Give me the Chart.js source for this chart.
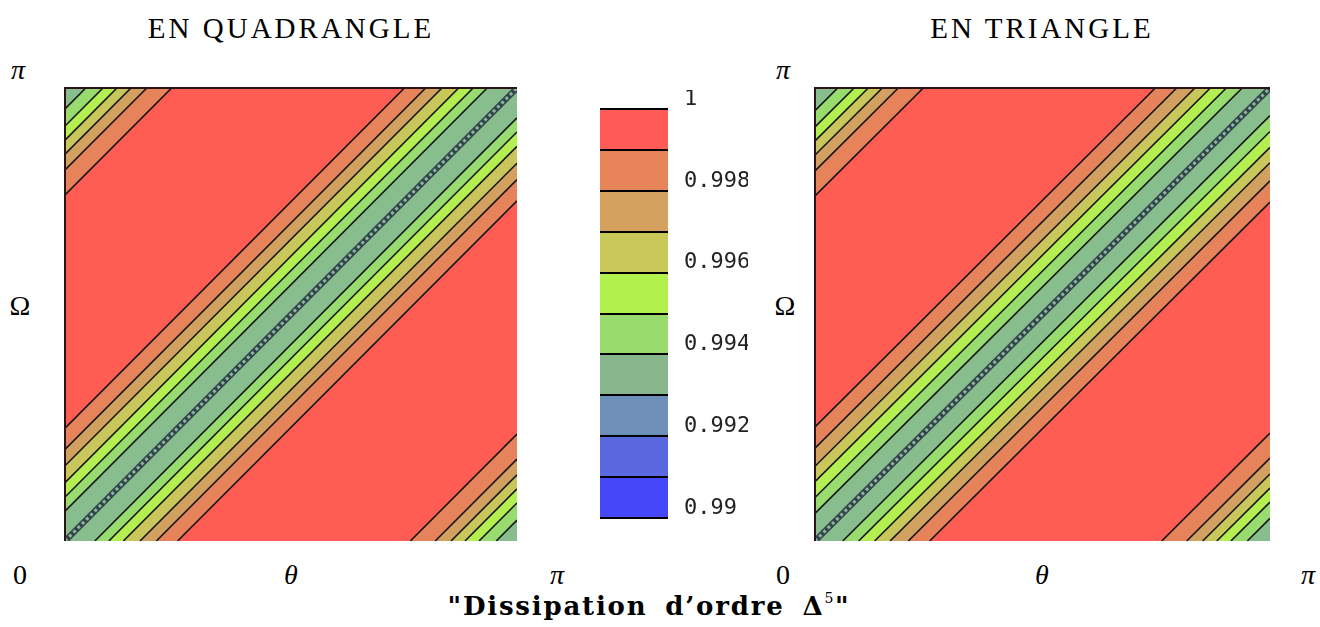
<!DOCTYPE html>
<html lang="fr">
<head>
<meta charset="UTF-8">
<title>Dissipation d'ordre Δ5</title>
<script src="https://cdn.jsdelivr.net/npm/chart.js@4.4.1/dist/chart.umd.min.js"></script>
<style>
  body{ margin:0; width:1320px; height:627px; background:#fff; position:relative; overflow:hidden;
        font-family:"Liberation Serif", "DejaVu Serif", serif; color:#000; }
  .lbl{ position:absolute; transform:translate(-50%,-50%); white-space:nowrap; font-size:28px; line-height:1; }
  .ttl{ position:absolute; transform:translate(-50%,-50%); white-space:nowrap; font-size:29px; letter-spacing:3px; line-height:1; }
  .it{ font-style:italic; }
  .foot{ position:absolute; transform:translate(-50%,-50%); white-space:nowrap; font-family:"DejaVu Serif", serif;
         font-size:26px; font-weight:bold; letter-spacing:1.8px; word-spacing:7px; line-height:1; }
  .foot sup{ font-size:14px; font-weight:normal; vertical-align:12px; line-height:0; }
  canvas{ position:absolute; }
</style>
</head>
<body>
<div class="ttl" style="left:291px;top:28px">EN QUADRANGLE</div>
<div class="ttl" style="left:1042px;top:28px">EN TRIANGLE</div>

<div class="lbl it" style="left:18px;top:70px">π</div>
<div class="lbl" style="left:20px;top:306px">Ω</div>
<div class="lbl" style="left:20px;top:575px">0</div>
<div class="lbl it" style="left:291px;top:575px">θ</div>
<div class="lbl it" style="left:557px;top:575px">π</div>

<div class="lbl it" style="left:783px;top:70px">π</div>
<div class="lbl" style="left:785px;top:306px">Ω</div>
<div class="lbl" style="left:783px;top:575px">0</div>
<div class="lbl it" style="left:1042px;top:575px">θ</div>
<div class="lbl it" style="left:1308px;top:575px">π</div>

<div class="foot" style="left:649px;top:606px">"Dissipation d’ordre Δ<sup>5</sup>"</div>

<canvas id="quad" style="left:63px;top:86px" width="456" height="457"></canvas>
<canvas id="bar" style="left:598px;top:90px" width="150" height="440"></canvas>
<canvas id="tri" style="left:813px;top:86px" width="459" height="457"></canvas>

<script>
// contour levels, outer (red side) to inner
const levels = [0.999, 0.998, 0.997, 0.996, 0.995, 0.994];
// distance of each contour from the diagonal theta = Omega, in units of pi
const quadDiag = [0.249, 0.202, 0.166, 0.129, 0.097, 0.066];
const triDiag  = [0.252, 0.205, 0.165, 0.131, 0.096, 0.061];
// distance of each contour from the corners (0,pi) and (pi,0), in units of pi
const quadCorner = [0.236, 0.181, 0.146, 0.115, 0.084, 0.046];
const triCorner  = [0.238, 0.183, 0.148, 0.117, 0.086, 0.050];
// colour bar
const barBounds = [0.990, 0.991, 0.992, 0.993, 0.994, 0.995, 0.996, 0.997, 0.998, 0.999, 1.000];

const bandColors = ['#e6835b', '#d3a15f', '#c9c75b', '#b4ef52', '#98db6e', '#88bd8d'];
const topColor = '#ff5c53';
const barColors = ['#4747fa', '#5a68e0', '#6e90b8', '#88b78e', '#98da6c', '#b2f04e',
                   '#c9c95a', '#d4a25e', '#e8845a', '#ff5a56'];

const P = Math.PI;

const framePlugin = {
  id: 'frame',
  beforeDatasetsDraw(chart) {
    const a = chart.chartArea, ctx = chart.ctx;
    ctx.save();
    ctx.fillStyle = topColor;
    ctx.fillRect(a.left, a.top, a.right - a.left, a.bottom - a.top);
    ctx.restore();
  },
  afterDraw(chart) {
    const a = chart.chartArea, ctx = chart.ctx;
    ctx.save();
    ctx.strokeStyle = '#2b1414';
    ctx.lineWidth = 2;
    ctx.beginPath();
    ctx.moveTo(a.left, a.bottom);
    ctx.lineTo(a.left, a.top);
    ctx.lineTo(a.right, a.top);
    ctx.stroke();
    ctx.restore();
  }
};

function pts(list) {
  return list.map(([x, y]) => ({x: x, y: y}));
}

function contourChart(id, diag, corner) {
  const ds = [];
  levels.forEach((lv, i) => {
    const h = diag[i] * P, c = corner[i] * P;
    const polys = [
      [[0, 0], [h, 0], [P, P - h], [P, P], [P - h, P], [0, h]],
      [[0, P - c], [0, P], [c, P]],
      [[P - c, 0], [P, 0], [P, c]]
    ];
    polys.forEach(pg => ds.push({
      data: pts(pg), showLine: true, fill: 'shape',
      backgroundColor: bandColors[i], borderColor: 'rgba(0,0,0,0)', borderWidth: 0.1,
      pointRadius: 0, order: 50 - i
    }));
    const lines = [
      [[h, 0], [P, P - h]],
      [[0, h], [P - h, P]],
      [[0, P - c], [c, P]],
      [[P - c, 0], [P, c]]
    ];
    lines.forEach(ln => ds.push({
      data: pts(ln), showLine: true, fill: false,
      borderColor: '#151515', borderWidth: 1.6, pointRadius: 0, order: 5
    }));
  });
  // minimum on the diagonal, drawn as a chained contour
  ds.push({ data: pts([[0, 0], [P, P]]), showLine: true, fill: false,
            borderColor: '#34424c', borderWidth: 6, pointRadius: 0, order: 2 });
  ds.push({ data: pts([[0, 0], [P, P]]), showLine: true, fill: false,
            borderColor: '#88b99a', borderWidth: 3, borderDash: [3, 3], pointRadius: 0, order: 1 });

  return new Chart(document.getElementById(id), {
    type: 'scatter',
    data: { datasets: ds },
    options: {
      responsive: false, animation: false, devicePixelRatio: 1, events: [],
      layout: { padding: 2 },
      plugins: { legend: { display: false }, tooltip: { enabled: false } },
      scales: {
        x: { type: 'linear', min: 0, max: P, display: false },
        y: { type: 'linear', min: 0, max: P, display: false }
      }
    },
    plugins: [framePlugin]
  });
}

contourChart('quad', quadDiag, quadCorner);
contourChart('tri', triDiag, triCorner);

new Chart(document.getElementById('bar'), {
  type: 'bar',
  data: {
    labels: [''],
    datasets: barColors.map((col, i) => ({
      data: [[barBounds[i], barBounds[i + 1]]],
      backgroundColor: col, borderWidth: 0,
      barPercentage: 1, categoryPercentage: 1
    }))
  },
  options: {
    responsive: false, animation: false, devicePixelRatio: 1, events: [],
    layout: { padding: { left: 2, top: 19, bottom: 12, right: 0 } },
    plugins: { legend: { display: false }, tooltip: { enabled: false } },
    scales: {
      x: { display: false, stacked: true },
      y: {
        position: 'right', min: 0.99, max: 1, stacked: false,
        afterFit(s) { s.width = 80; s.paddingTop = 0; s.paddingBottom = 0; },
        grid: { color: '#000', lineWidth: 2, drawTicks: false, z: 1 },
        border: { display: false },
        ticks: {
          stepSize: 0.001, autoSkip: false, padding: 16, labelOffset: -10,
          color: '#222', font: { family: 'DejaVu Sans Mono', size: 22 },
          callback: (v, i) => (i % 2 === 0 ? String(parseFloat(v.toFixed(3))) : '')
        }
      }
    }
  }
});
</script>
</body>
</html>
